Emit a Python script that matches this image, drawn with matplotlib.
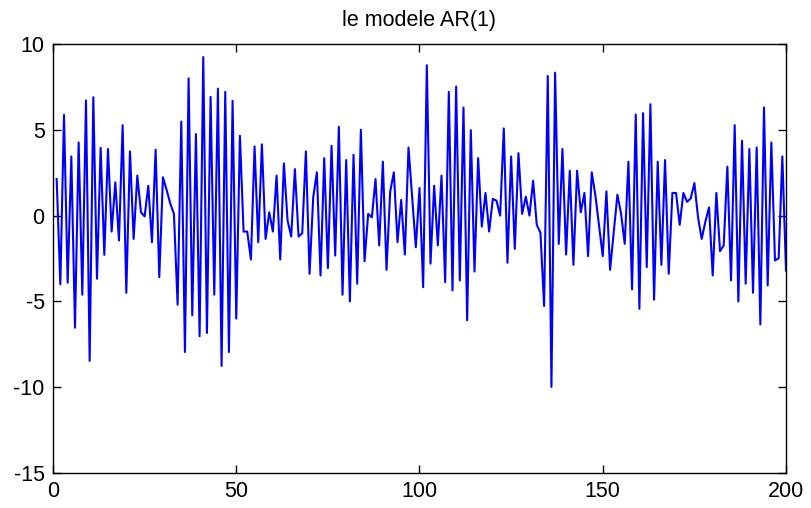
# AR(1) simulated series, redrawn in MATLAB style

import numpy as np
import matplotlib
matplotlib.use("Agg")
import matplotlib.pyplot as plt

plt.rcParams['font.family'] = ['Liberation Sans', 'DejaVu Sans']
plt.rcParams['axes.unicode_minus'] = False

# values, t = 1..200
y_values = [
    2.13, -4.01, 5.87, -3.91, 3.45, -6.53, 4.26, -4.61, 6.71, -8.47,
    6.90, -3.68, 3.95, -2.29, 3.88, -0.93, 1.94, -1.45, 5.27, -4.50,
    3.74, -1.36, 2.33, 0.20, -0.05, 1.74, -1.55, 3.84, -3.59, 2.23,
    1.50, 0.70, 0.10, -5.19, 5.48, -7.95, 8.00, -5.81, 4.75, -7.03,
    9.24, -6.84, 6.92, -4.61, 7.40, -8.76, 7.21, -7.95, 6.69, -6.00,
    4.65, -0.93, -0.93, -2.56, 4.03, -1.55, 4.15, -1.36, 0.19, -0.93,
    2.33, -2.56, 3.04, -0.29, -1.22, 2.71, -1.22, -1.03, 3.74, -3.39,
    1.07, 2.52, -3.49, 3.35, -3.06, 4.07, -2.33, 5.17, -4.61, 3.24,
    -5.00, 3.55, -3.97, 5.00, -2.66, 0.10, -0.10, 2.13, -1.74, 3.14,
    -3.16, 1.40, 2.52, -1.55, 0.91, -2.27, 3.97, 1.10, -1.84, 1.61,
    -4.17, 8.76, -2.80, 1.74, -1.74, 2.33, -3.88, 7.21, -4.36, 7.52,
    -3.78, 6.30, -6.10, 4.98, -3.26, 3.35, -0.64, 1.32, -0.93, 0.97,
    0.87, 0.00, 5.08, -2.75, 3.45, -1.94, 3.64, 0.10, 1.10, 0.00,
    2.03, -0.54, -1.00, -5.27, 8.14, -9.98, 8.33, -1.65, 3.88, -2.27,
    2.62, -2.87, 2.62, 0.19, 1.32, -2.36, 2.52, 1.16, -0.58, -2.36,
    1.41, -3.16, -1.00, 1.22, 0.10, -1.65, 3.14, -4.30, 5.89, -5.43,
    5.97, -3.00, 6.49, -4.90, 3.14, -2.87, 3.24, -3.39, 1.32, 1.32,
    -0.54, 1.32, 0.80, 1.00, 1.90, -0.10, -1.36, -0.35, 0.48, -3.49,
    1.32, -2.07, -1.74, 2.85, -3.78, 5.27, -5.00, 4.36, -3.97, 3.88,
    -4.50, 3.97, -6.34, 6.30, -4.07, 4.26, -2.62, -2.48, 3.45, -3.20,
]
t = np.arange(1, len(y_values) + 1)

x_ticks = [0, 50, 100, 150, 200]
y_ticks = [-15, -10, -5, 0, 5, 10]

fig = plt.figure(figsize=(8.12, 5.08), dpi=100)
ax = fig.add_axes([53 / 812, 1 - 473 / 508, (786 - 53) / 812, (473 - 44) / 508])

ax.plot(t, y_values, color='#0000ff', linewidth=1.5)

ax.set_xlim(0, 200)
ax.set_ylim(-15, 10)
ax.set_xticks(x_ticks)
ax.set_yticks(y_ticks)
ax.tick_params(direction='in', length=6, width=1, top=True, right=True,
               labelsize=15.5, pad=6)
for s in ax.spines.values():
    s.set_linewidth(1)

ax.set_title('le modele AR(1)', fontsize=15.5, pad=13)

fig.savefig('out.png', dpi=100, facecolor='white')
